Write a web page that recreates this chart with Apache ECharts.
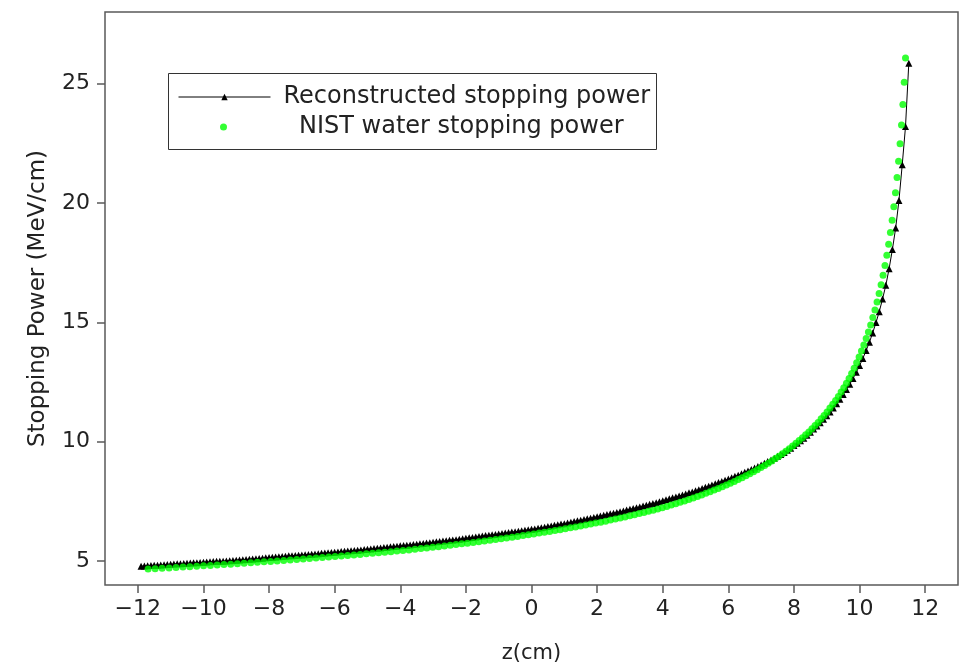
<!DOCTYPE html>
<html>
<head>
<meta charset="utf-8">
<script src="https://cdn.jsdelivr.net/npm/echarts@6/dist/echarts.min.js"></script>
<style>
html,body{margin:0;padding:0;background:#fff;}
#chart{width:971px;height:662px;}
</style>
</head>
<body>
<div id="chart"></div>
<script>
// ---- data ----
const xTicks = [-12, -10, -8, -6, -4, -2, 0, 2, 4, 6, 8, 10, 12];
const yTicks = [5, 10, 15, 20, 25];

const reconZ = [
-11.9,-11.8,-11.7,-11.6,-11.5,-11.4,-11.3,-11.2,-11.1,-11.0,
-10.9,-10.8,-10.7,-10.6,-10.5,-10.4,-10.3,-10.2,-10.1,-10.0,
-9.9,-9.8,-9.7,-9.6,-9.5,-9.4,-9.3,-9.2,-9.1,-9.0,
-8.9,-8.8,-8.7,-8.6,-8.5,-8.4,-8.3,-8.2,-8.1,-8.0,
-7.9,-7.8,-7.7,-7.6,-7.5,-7.4,-7.3,-7.2,-7.1,-7.0,
-6.9,-6.8,-6.7,-6.6,-6.5,-6.4,-6.3,-6.2,-6.1,-6.0,
-5.9,-5.8,-5.7,-5.6,-5.5,-5.4,-5.3,-5.2,-5.1,-5.0,
-4.9,-4.8,-4.7,-4.6,-4.5,-4.4,-4.3,-4.2,-4.1,-4.0,
-3.9,-3.8,-3.7,-3.6,-3.5,-3.4,-3.3,-3.2,-3.1,-3.0,
-2.9,-2.8,-2.7,-2.6,-2.5,-2.4,-2.3,-2.2,-2.1,-2.0,
-1.9,-1.8,-1.7,-1.6,-1.5,-1.4,-1.3,-1.2,-1.1,-1.0,
-0.9,-0.8,-0.7,-0.6,-0.5,-0.4,-0.3,-0.2,-0.1,0.0,
0.1,0.2,0.3,0.4,0.5,0.6,0.7,0.8,0.9,1.0,
1.1,1.2,1.3,1.4,1.5,1.6,1.7,1.8,1.9,2.0,
2.1,2.2,2.3,2.4,2.5,2.6,2.7,2.8,2.9,3.0,
3.1,3.2,3.3,3.4,3.5,3.6,3.7,3.8,3.9,4.0,
4.1,4.2,4.3,4.4,4.5,4.6,4.7,4.8,4.9,5.0,
5.1,5.2,5.3,5.4,5.5,5.6,5.7,5.8,5.9,6.0,
6.1,6.2,6.3,6.4,6.5,6.6,6.7,6.8,6.9,7.0,
7.1,7.2,7.3,7.4,7.5,7.6,7.7,7.8,7.9,8.0,
8.1,8.2,8.3,8.4,8.5,8.6,8.7,8.8,8.9,9.0,
9.1,9.2,9.3,9.4,9.5,9.6,9.7,9.8,9.9,10.0,
10.1,10.2,10.3,10.4,10.5,10.6,10.7,10.8,10.9,11.0,
11.1,11.2,11.3,11.4,11.5
];
const reconS = [
4.79,4.80,4.81,4.82,4.83,4.83,4.84,4.85,4.86,4.87,
4.88,4.89,4.89,4.90,4.91,4.92,4.93,4.93,4.94,4.95,
4.96,4.97,4.98,4.99,4.99,5.00,5.01,5.02,5.03,5.04,
5.05,5.06,5.07,5.08,5.09,5.10,5.11,5.12,5.14,5.15,
5.16,5.17,5.18,5.19,5.20,5.22,5.23,5.24,5.25,5.26,
5.27,5.28,5.29,5.30,5.31,5.33,5.34,5.35,5.36,5.37,
5.38,5.40,5.41,5.42,5.43,5.45,5.46,5.47,5.49,5.50,
5.51,5.53,5.54,5.55,5.57,5.58,5.60,5.61,5.62,5.64,
5.65,5.67,5.68,5.70,5.71,5.73,5.74,5.76,5.77,5.79,
5.81,5.82,5.84,5.85,5.87,5.89,5.90,5.92,5.94,5.96,
5.98,5.99,6.01,6.03,6.05,6.07,6.08,6.10,6.12,6.14,
6.16,6.18,6.20,6.22,6.23,6.25,6.27,6.29,6.31,6.33,
6.35,6.38,6.40,6.42,6.45,6.47,6.50,6.52,6.55,6.57,
6.60,6.63,6.66,6.69,6.71,6.74,6.77,6.80,6.83,6.86,
6.89,6.92,6.95,6.98,7.01,7.04,7.07,7.10,7.14,7.17,
7.20,7.24,7.27,7.31,7.34,7.38,7.41,7.45,7.49,7.53,
7.57,7.61,7.65,7.69,7.73,7.77,7.81,7.86,7.90,7.95,
7.99,8.04,8.09,8.14,8.19,8.24,8.29,8.34,8.39,8.44,
8.49,8.55,8.60,8.66,8.72,8.78,8.84,8.90,8.96,9.03,
9.10,9.17,9.24,9.31,9.39,9.47,9.55,9.64,9.73,9.84,
9.94,10.04,10.15,10.27,10.40,10.53,10.66,10.80,10.94,11.09,
11.25,11.41,11.59,11.78,11.98,12.19,12.41,12.65,12.91,13.19,
13.49,13.82,14.17,14.56,14.99,15.45,15.98,16.55,17.25,18.05,
18.95,20.10,21.60,23.20,25.85
];

const nistZ = [
11.400,11.361,11.320,11.278,11.234,11.189,11.142,11.094,11.044,10.993,
10.940,10.886,10.831,10.774,10.716,10.656,10.595,10.533,10.469,10.404,
10.338,10.270,10.201,10.130,10.058,9.985,9.911,9.835,9.758,9.680,
9.600,9.519,9.437,9.354,9.269,9.183,9.096,9.008,8.918,8.828,
8.736,8.643,8.548,8.453,8.356,8.258,8.160,8.059,7.958,7.856,
7.752,7.647,7.541,7.434,7.326,7.217,7.106,6.995,6.882,6.768,
6.653,6.537,6.420,6.302,6.183,6.062,5.941,5.818,5.694,5.569,
5.443,5.316,5.188,5.059,4.929,4.797,4.665,4.531,4.397,4.261,
4.125,3.987,3.848,3.709,3.568,3.427,3.284,3.140,2.996,2.850,
2.704,2.557,2.408,2.259,2.109,1.957,1.805,1.652,1.498,1.343,
1.187,1.030,0.872,0.714,0.554,0.393,0.232,0.069,-0.094,-0.259,
-0.424,-0.590,-0.757,-0.925,-1.094,-1.264,-1.434,-1.606,-1.778,-1.952,
-2.126,-2.301,-2.477,-2.654,-2.832,-3.011,-3.190,-3.371,-3.552,-3.734,
-3.918,-4.102,-4.287,-4.473,-4.659,-4.846,-5.034,-5.223,-5.413,-5.604,
-5.795,-5.987,-6.180,-6.374,-6.568,-6.763,-6.959,-7.156,-7.354,-7.553,
-7.752,-7.952,-8.153,-8.355,-8.557,-8.760,-8.964,-9.169,-9.374,-9.581,
-9.788,-9.996,-10.204,-10.414,-10.624,-10.835,-11.046,-11.259,-11.472,-11.686
];
const nistS = [
26.07,25.06,24.13,23.27,22.48,21.75,21.07,20.43,19.84,19.28,
18.76,18.27,17.81,17.38,16.97,16.58,16.21,15.85,15.52,15.20,
14.89,14.60,14.32,14.05,13.80,13.55,13.31,13.08,12.86,12.65,
12.45,12.26,12.08,11.90,11.73,11.57,11.41,11.25,11.10,10.96,
10.81,10.68,10.54,10.41,10.29,10.17,10.05,9.932,9.818,9.708,
9.600,9.496,9.394,9.294,9.198,9.103,9.010,8.919,8.831,8.745,
8.660,8.578,8.496,8.417,8.339,8.263,8.189,8.116,8.045,7.975,
7.907,7.840,7.774,7.709,7.646,7.583,7.522,7.462,7.404,7.346,
7.289,7.237,7.186,7.136,7.086,7.038,6.990,6.943,6.896,6.851,
6.806,6.762,6.718,6.675,6.633,6.592,6.551,6.511,6.471,6.432,
6.393,6.355,6.317,6.281,6.244,6.208,6.173,6.138,6.103,6.069,
6.035,6.002,5.969,5.937,5.905,5.874,5.843,5.812,5.782,5.752,
5.723,5.693,5.664,5.635,5.607,5.579,5.552,5.525,5.498,5.471,
5.445,5.421,5.397,5.373,5.350,5.327,5.304,5.281,5.259,5.237,
5.215,5.193,5.172,5.151,5.130,5.109,5.088,5.068,5.048,5.028,
5.008,4.988,4.969,4.949,4.930,4.912,4.893,4.874,4.856,4.838,
4.820,4.802,4.784,4.767,4.750,4.732,4.715,4.698,4.682,4.665
];

const seriesNames = ['Reconstructed stopping power', 'NIST water stopping power'];

// ---- build chart ----
const FONT = 'DejaVu Sans';
const chart = echarts.init(document.getElementById('chart'), null, {renderer: 'canvas'});
const reconData = reconZ.map((z, i) => [z, reconS[i]]);
const nistData = nistZ.map((z, i) => [z, nistS[i]]);
const fmtMinus = v => String(v).replace('-', '\u2212');

chart.setOption({
  animation: false,
  backgroundColor: '#ffffff',
  textStyle: {fontFamily: FONT},
  grid: {left: 105, right: 13, top: 12, bottom: 77, outerBoundsMode: 'none', containLabel: false,
         show: true, borderColor: '#5a5a5a', borderWidth: 1.5, backgroundColor: 'transparent'},
  xAxis: {
    type: 'value', min: -13, max: 13,
    name: 'z(cm)', nameLocation: 'middle', nameGap: 58,
    nameTextStyle: {fontFamily: FONT, fontSize: 21, color: '#222'},
    axisLine: {show: false, onZero: false},
    splitLine: {show: false},
    axisTick: {show: true, inside: false, length: 8, customValues: xTicks, lineStyle: {color: '#5a5a5a', width: 1.5}},
    axisLabel: {customValues: xTicks, fontFamily: FONT, fontSize: 22, color: '#222', margin: 13, formatter: fmtMinus}
  },
  yAxis: {
    type: 'value', min: 4, max: 28,
    name: 'Stopping Power (MeV/cm)', nameLocation: 'middle', nameGap: 55, nameRotate: 90,
    nameTextStyle: {fontFamily: FONT, fontSize: 23, color: '#222'},
    axisLine: {show: false, onZero: false},
    splitLine: {show: false},
    axisTick: {show: true, inside: false, length: 8, customValues: yTicks, lineStyle: {color: '#5a5a5a', width: 1.5}},
    axisLabel: {customValues: yTicks, fontFamily: FONT, fontSize: 22, color: '#222', margin: 15}
  },
  graphic: [{
    type: 'rect', left: 168, top: 73, z: 3,
    shape: {width: 488, height: 76},
    style: {fill: '#ffffff', stroke: '#333333', lineWidth: 1}
  }],
  legend: [{
    data: [seriesNames[0]], left: 178, top: 85, z: 5, padding: 0,
    itemWidth: 92, itemHeight: 8, itemGap: 0,
    lineStyle: {width: 1},
    textStyle: {fontFamily: FONT, fontSize: 24, color: '#222', lineHeight: 24, padding: [0, 0, 0, 8]},
    selectedMode: false
  }, {
    data: [{name: seriesNames[1], icon: 'circle'}], left: 220, top: 115, z: 5, padding: 0,
    itemWidth: 7, itemHeight: 7, itemGap: 0,
    textStyle: {fontFamily: FONT, fontSize: 24, color: '#222', lineHeight: 24, padding: [0, 0, 0, 67]},
    selectedMode: false
  }],
  series: [{
    name: seriesNames[0], type: 'line', data: reconData,
    symbol: 'triangle', symbolSize: 7, showSymbol: true,
    lineStyle: {color: '#000', width: 1},
    itemStyle: {color: '#000'},
    emphasis: {disabled: true}, z: 2
  }, {
    name: seriesNames[1], type: 'scatter', data: nistData,
    symbol: 'circle', symbolSize: 7,
    itemStyle: {color: '#00ff00'},
    emphasis: {disabled: true}, z: 3
  }]
});
</script>
</body>
</html>
